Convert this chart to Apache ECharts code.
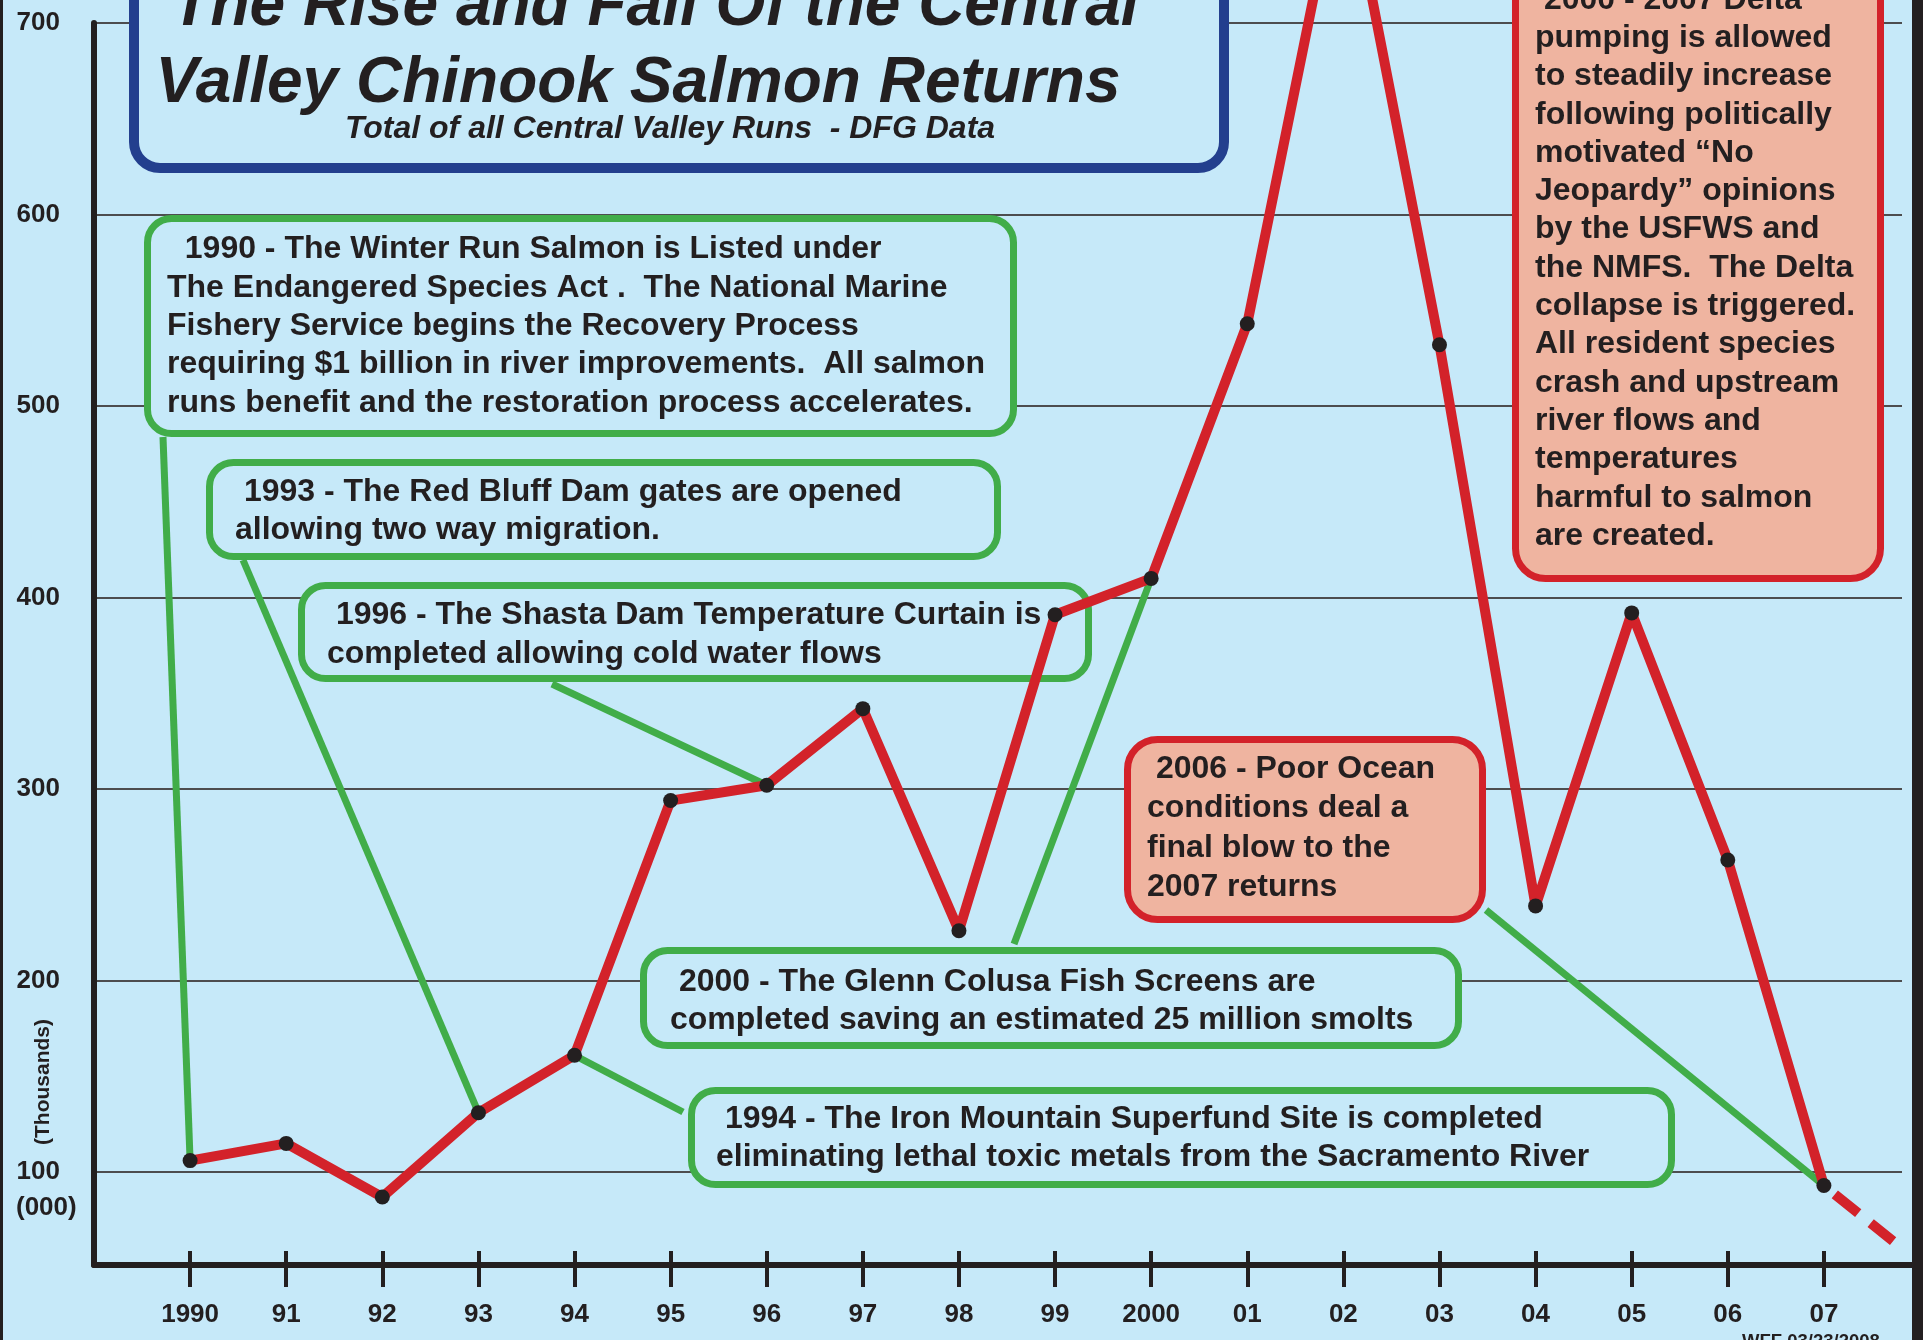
<!DOCTYPE html>
<html><head><meta charset="utf-8">
<script src="https://cdn.jsdelivr.net/npm/echarts@6/dist/echarts.min.js"></script>
<style>html,body{margin:0;padding:0;background:#c6e9f9;}#c{width:1923px;height:1340px;}</style>
</head><body><div id="c"></div>
<script>
// ---------------- data ----------------
const years = [1990,1991,1992,1993,1994,1995,1996,1997,1998,1999,2000,2001,2002,2003,2004,2005,2006,2007];
const returnsThousands = [106,115,87,131,161,294,302,342,226,391,410,543,790,532,239,392,263,93];
const projectionYears = [2007, 2007.72];
const projectionThousands = [93, 64];
const xTickLabels = ['1990','91','92','93','94','95','96','97','98','99','2000','01','02','03','04','05','06','07'];
const yTickValues = [100,200,300,400,500,600,700];

const titleLines = ['The Rise and Fall Of the Central', 'Valley Chinook Salmon Returns'];
const subtitle = 'Total of all Central Valley Runs  - DFG Data';
const note1990 = ['  1990 - The Winter Run Salmon is Listed under','The Endangered Species Act .  The National Marine','Fishery Service begins the Recovery Process','requiring $1 billion in river improvements.  All salmon','runs benefit and the restoration process accelerates.'];
const note1993 = [' 1993 - The Red Bluff Dam gates are opened','allowing two way migration.'];
const note1996 = [' 1996 - The Shasta Dam Temperature Curtain is','completed allowing cold water flows'];
const note2000 = [' 2000 - The Glenn Colusa Fish Screens are','completed saving an estimated 25 million smolts'];
const note1994 = [' 1994 - The Iron Mountain Superfund Site is completed','eliminating lethal toxic metals from the Sacramento River'];
const note2006 = [' 2006 - Poor Ocean','conditions deal a','final blow to the','2007 returns'];
const noteDelta = [' 2000 - 2007 Delta','pumping is allowed','to steadily increase','following politically','motivated \u201cNo','Jeopardy\u201d opinions','by the USFWS and','the NMFS.  The Delta','collapse is triggered.','All resident species','crash and upstream','river flows and','temperatures','harmful to salmon','are created.'];

// ---------------- style ----------------
const FONT = "'Liberation Sans', Arial, Helvetica, sans-serif";
const BG = '#c6e9f9', INK = '#231f20', RED = '#d3222a', GREEN = '#41ad49', BLUE = '#233f8e', SALMON = '#efb4a0', GRID = '#4d4d4f';

const chart = echarts.init(document.getElementById('c'), null, {renderer: 'canvas', width: 1923, height: 1340});

const xLabelFor = v => { const i = years.indexOf(Math.round(v)); return i >= 0 && Math.abs(v - years[i]) < 1e-6 ? xTickLabels[i] : ''; };

const option = {
  backgroundColor: BG,
  animation: false,
  grid: {left: 94, right: 3, top: 23, bottom: 75, containLabel: false, outerBoundsMode: 'none'},
  xAxis: [{
    type: 'value', min: 1989, max: 2008,
    axisLine: {show: true, onZero: false, lineStyle: {color: INK, width: 6}},
    axisTick: {show: true, inside: false, length: 22, customValues: years, lineStyle: {color: INK, width: 4}},
    axisLabel: {margin: 37, fontFamily: FONT, fontWeight: 'bold', fontSize: 26, color: INK, customValues: years,
      formatter: xLabelFor},
    splitLine: {show: false}
  }, {
    type: 'value', min: 1989, max: 2008, position: 'bottom',
    axisLine: {show: false, onZero: false},
    axisTick: {show: true, inside: true, length: 14, customValues: years, lineStyle: {color: INK, width: 4}},
    axisLabel: {show: false}, splitLine: {show: false}
  }],
  yAxis: {
    type: 'value', min: 51.5, max: 700, splitNumber: 6,
    axisLine: {show: true, onZero: false, lineStyle: {color: INK, width: 6}},
    axisTick: {show: false},
    axisLabel: {margin: 34, fontFamily: FONT, fontWeight: 'bold', fontSize: 26, color: INK,
      formatter: v => yTickValues.indexOf(Math.round(v)) >= 0 && Math.abs(v - Math.round(v)) < 1e-6 ? String(Math.round(v)) : ''},
    splitLine: {show: true, lineStyle: {color: GRID, width: 2}}
  },
  series: [{
    type: 'line', xAxisIndex: 0, yAxisIndex: 0, clip: false, silent: true, z: 3,
    data: years.map((y, i) => [y, returnsThousands[i]]),
    symbol: 'circle', symbolSize: 15, itemStyle: {color: INK},
    lineStyle: {color: RED, width: 10, cap: 'butt', join: 'bevel'}
  }, {
    type: 'line', xAxisIndex: 0, yAxisIndex: 0, clip: false, silent: true, z: 3,
    data: projectionYears.map((y, i) => [y, projectionThousands[i]]),
    symbol: 'none',
    lineStyle: {color: RED, width: 10, type: [30, 16], dashOffset: 32, cap: 'butt'}
  }]
};
chart.setOption(option);

// ---------------- annotations ----------------
const px = (x, y) => chart.convertToPixel({seriesIndex: 0}, [x, y]);
const pt = yr => px(yr, returnsThousands[years.indexOf(yr)]);

function box(x1, y1, x2, y2, stroke, fill, lw, r) {
  return {type: 'rect', z: 1, silent: true,
    shape: {x: x1 + lw / 2, y: y1 + lw / 2, width: x2 - x1 - lw, height: y2 - y1 - lw, r: r},
    style: {fill: fill, stroke: stroke, lineWidth: lw}};
}
function textBlock(lines, x, baseline1, size, lh, font, align) {
  const mid = 0.24 * size;
  return {type: 'text', z: 2, silent: true, x: x, y: baseline1 - mid - lh / 2,
    style: {text: lines.join('\n'), fill: INK, font: font || ('bold ' + size + 'px ' + FONT), lineHeight: lh,
      textAlign: align || 'left', textVerticalAlign: 'top', align: align || 'left', verticalAlign: 'top'}};
}
function connector(ax, ay, p) {
  return {type: 'line', z: 1, silent: true, shape: {x1: ax, y1: ay, x2: p[0], y2: p[1]},
    style: {stroke: GREEN, lineWidth: 7, lineCap: 'butt'}};
}

const TI = 'italic bold 64px ' + FONT;
const graphics = [
  // title
  box(129, -60, 1229, 173, BLUE, BG, 10, 26),
  textBlock([titleLines[0]], 655, 23, 64, 64, TI, 'center'),
  textBlock([titleLines[1]], 638, 100, 64, 64, TI, 'center'),
  textBlock([subtitle], 670, 137, 32, 32, 'italic bold 32px ' + FONT, 'center'),
  // green notes
  box(144, 215, 1017, 437, GREEN, BG, 7, 24),
  textBlock(note1990, 167, 257.3, 32, 38.3),
  box(206, 459, 1001, 560, GREEN, BG, 7, 24),
  textBlock(note1993, 235, 500, 32, 38.3),
  box(298, 582, 1092, 682, GREEN, BG, 7, 24),
  textBlock(note1996, 327, 623.3, 32, 38.3),
  box(640, 947, 1462, 1049, GREEN, BG, 7, 24),
  textBlock(note2000, 670, 990, 32, 38.3),
  box(688, 1087, 1675, 1188, GREEN, BG, 7, 24),
  textBlock(note1994, 716, 1126.7, 32, 38.3),
  // red notes
  box(1124, 736, 1486, 923, RED, SALMON, 7, 30),
  textBlock(note2006, 1147, 776.7, 32, 39.4),
  box(1512, -60, 1884, 582, RED, SALMON, 7, 30),
  textBlock(noteDelta, 1535, 7.5, 32, 38.3),
  // connectors
  connector(163, 437, pt(1990)),
  connector(243, 560, pt(1993)),
  connector(552, 684, pt(1996)),
  connector(683, 1112, pt(1994)),
  connector(1014, 944, pt(2000)),
  connector(1486, 910, pt(2007)),
  // axis unit texts
  {type: 'text', z: 2, silent: true, x: 16, y: px(1990, 100)[1] + 36,
    style: {text: '(000)', fill: INK, font: 'bold 26px ' + FONT, textAlign: 'left', textVerticalAlign: 'middle', align: 'left', verticalAlign: 'middle'}},
  {type: 'text', z: 2, silent: true, x: 43, y: 1082, rotation: Math.PI / 2,
    style: {text: '(Thousands)', fill: INK, font: 'bold 21px ' + FONT, textAlign: 'center', textVerticalAlign: 'middle', align: 'center', verticalAlign: 'middle'}},
  {type: 'text', z: 2, silent: true, x: 1742, y: 1342,
    style: {text: 'WFF 03/23/2008', fill: INK, font: 'bold 18.5px ' + FONT, textAlign: 'left', textVerticalAlign: 'middle', align: 'left', verticalAlign: 'middle'}},
  // frame
  {type: 'rect', z: 5, silent: true, shape: {x: 1902, y: 0, width: 10, height: 1258}, style: {fill: BG}},
  {type: 'rect', z: 10, silent: true, shape: {x: 0, y: 0, width: 3, height: 1340}, style: {fill: INK}},
  {type: 'rect', z: 10, silent: true, shape: {x: 1912, y: 0, width: 11, height: 1340}, style: {fill: INK}}
];
chart.setOption({graphic: graphics});
</script>
</body></html>
